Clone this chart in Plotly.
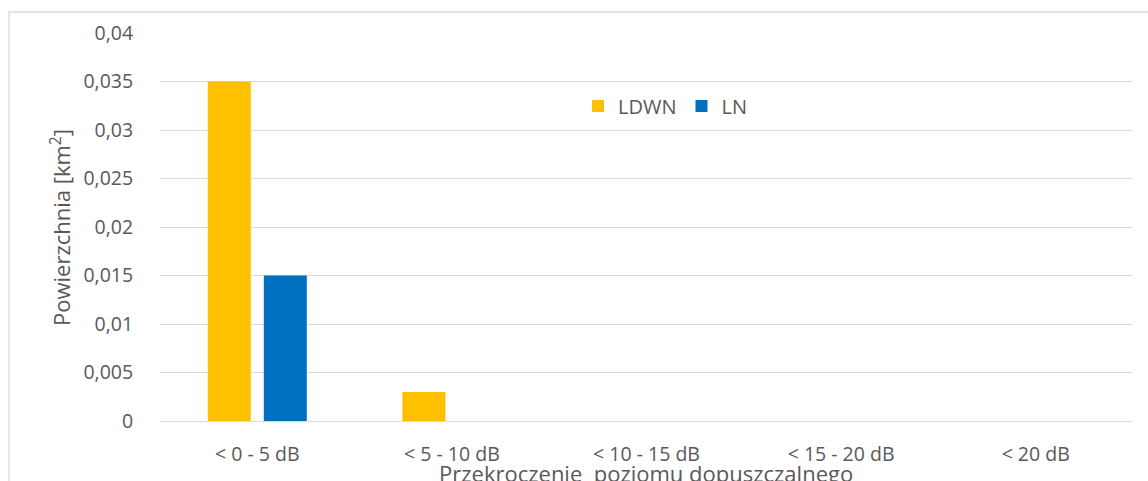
import plotly.graph_objects as go

categories = ["< 0 - 5 dB", "< 5 - 10 dB", "< 10 - 15 dB", "< 15 - 20 dB", "< 20 dB"]
ldwn = [0.035, 0.003, 0, 0, 0]
ln = [0.015, 0, 0, 0, 0]
y_tickvals = [0, 0.005, 0.01, 0.015, 0.02, 0.025, 0.03, 0.035, 0.04]
y_ticktext = ["0", "0,005", "0,01", "0,015", "0,02", "0,025", "0,03", "0,035", "0,04"]
x_title = "Przekroczenie  poziomu dopuszczalnego"
y_title = "Powierzchnia [km<sup>2</sup>]"

FONT = "Open Sans"
TXT = "#595959"
GRID = "#d9d9d9"

W, H = 1148, 481
L, R, T, B = 160, 15, 33, 60
pw = W - L - R
ph = H - T - B

fig = go.Figure()
fig.add_trace(go.Bar(name="LDWN", x=categories, y=ldwn, marker=dict(color="#FFC000", line=dict(width=0))))
fig.add_trace(go.Bar(name="LN", x=categories, y=ln, marker=dict(color="#0070C0", line=dict(width=0))))

fig.update_layout(
    width=W, height=H,
    margin=dict(l=L, r=R, t=T, b=B, autoexpand=False),
    paper_bgcolor="white", plot_bgcolor="white",
    barmode="group", bargap=0.4245, bargroupgap=0.232,
    font=dict(family=FONT, color=TXT, size=19),
    showlegend=True,
    legend=dict(orientation="h", x=(578 - L) / pw, y=(H - B - 106) / ph,
                xanchor="left", yanchor="middle",
                font=dict(family=FONT, size=20, color=TXT),
                bgcolor="rgba(0,0,0,0)", itemwidth=30, tracegroupgap=0),
    xaxis=dict(
        showgrid=False, showline=False, zeroline=False,
        ticks="outside", ticklen=16, tickcolor="rgba(0,0,0,0)",
        tickfont=dict(family=FONT, size=19.5, color=TXT),
        automargin=False,
    ),
    yaxis=dict(
        range=[0, 0.04], tickvals=y_tickvals, ticktext=y_ticktext,
        showgrid=True, gridcolor=GRID, gridwidth=1.3,
        zeroline=True, zerolinecolor=GRID, zerolinewidth=1.3,
        showline=False,
        ticks="outside", ticklen=22, tickcolor="rgba(0,0,0,0)",
        tickfont=dict(family=FONT, size=19.5, color=TXT),
        automargin=False,
    ),
)

# axis titles
fig.add_annotation(text=x_title, xref="paper", yref="paper",
                   x=(646 - L) / pw, y=(H - B - 473) / ph,
                   xanchor="center", yanchor="middle", showarrow=False,
                   font=dict(family=FONT, size=22, color=TXT))
fig.add_annotation(text=y_title, xref="paper", yref="paper",
                   x=(60 - L) / pw, y=(H - B - 228) / ph, textangle=-90,
                   xanchor="center", yanchor="middle", showarrow=False,
                   font=dict(family=FONT, size=22, color=TXT))

# chart area border (extends beyond the visible image on right and bottom)
fig.add_shape(type="rect", xref="paper", yref="paper",
              x0=(9 - L) / pw, x1=(W + 20 - L) / pw,
              y0=(H - B - (H + 20)) / ph, y1=(H - B - 12) / ph,
              line=dict(color=GRID, width=1.3), fillcolor="rgba(0,0,0,0)", layer="below")

fig.write_html("out.html", config={"displayModeBar": False},
               post_script="document.body.style.margin='0';document.body.style.overflow='hidden';")
